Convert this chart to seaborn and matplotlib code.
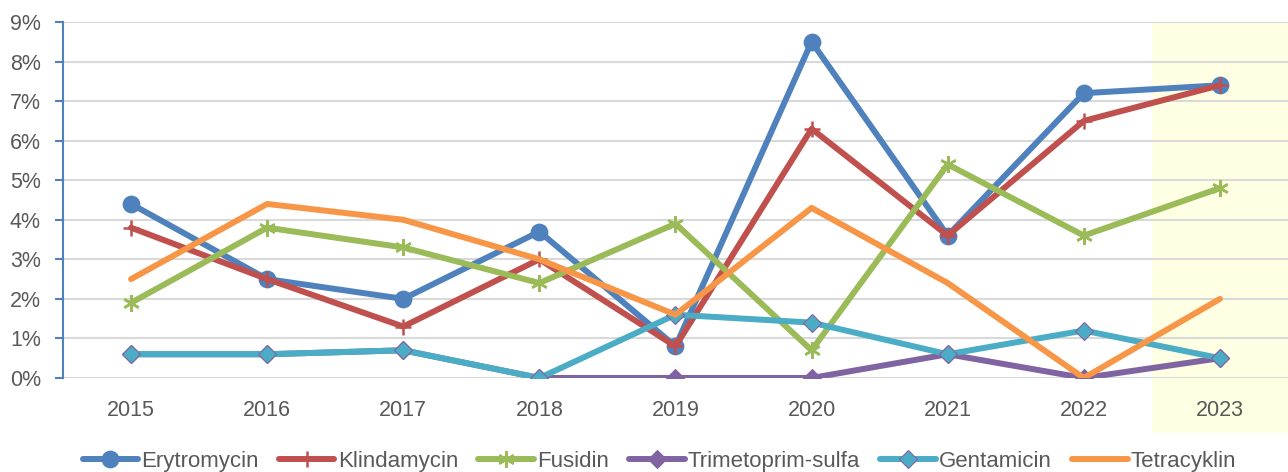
import seaborn as sns
import matplotlib.pyplot as plt
import pandas as pd

years = ["2015", "2016", "2017", "2018", "2019", "2020", "2021", "2022", "2023"]

erytromycin = [4.4, 2.5, 2.0, 3.7, 0.8, 8.5, 3.6, 7.2, 7.4]
klindamycin = [3.8, 2.5, 1.3, 3.0, 0.8, 6.3, 3.6, 6.5, 7.4]
fusidin = [1.9, 3.8, 3.3, 2.4, 3.9, 0.7, 5.4, 3.6, 4.8]
trimetoprim_sulfa = [0.6, 0.6, 0.7, 0.0, 0.0, 0.0, 0.6, 0.0, 0.5]
gentamicin = [0.6, 0.6, 0.7, 0.0, 1.6, 1.4, 0.6, 1.2, 0.5]
tetracyklin = [2.5, 4.4, 4.0, 3.0, 1.6, 4.3, 2.4, 0.0, 2.0]

series = {
    "Erytromycin": erytromycin,
    "Klindamycin": klindamycin,
    "Fusidin": fusidin,
    "Trimetoprim-sulfa": trimetoprim_sulfa,
    "Gentamicin": gentamicin,
    "Tetracyklin": tetracyklin,
}

# colour, marker, marker size
styles = {
    "Erytromycin": ("#4F81BD", "o", 11),
    "Klindamycin": ("#C0504D", "+", 12),
    "Fusidin": ("#9BBB59", (6, 2, 0), 12),
    "Trimetoprim-sulfa": ("#8064A2", "D", 9),
    "Gentamicin": ("#4BACC6", "D", 9),
    "Tetracyklin": ("#F79646", None, 0),
}

sns.set_style("white")
plt.rcParams["font.family"] = ["Liberation Sans", "DejaVu Sans"]

fig = plt.figure(figsize=(12.88, 4.72), dpi=100)
ax = fig.add_axes([0.0489, 0.1992, 0.9511, 0.7542])

# highlighted last year
ax.axvspan(7.5, 8.5, ymin=-0.155, ymax=1, color="#FFFFE3", lw=0,
           zorder=0, clip_on=False)

for name, vals in series.items():
    color, marker, ms = styles[name]
    df = pd.DataFrame({"x": range(len(years)), "value": vals})
    kw = {}
    if marker:
        kw = dict(marker=marker, markersize=ms, markeredgewidth=1.8,
                  markeredgecolor=color, markerfacecolor=color)
    if marker == "D":
        kw["markeredgecolor"] = "#8064A2"
        kw["markeredgewidth"] = 0.8
    sns.lineplot(data=df, x="x", y="value", ax=ax, color=color, linewidth=4.3,
                 label=name, solid_joinstyle="round", solid_capstyle="round",
                 zorder=3, **kw)

ax.set_xlim(-0.5, 8.5)
ax.set_ylim(0, 9)
ax.set_xticks(range(len(years)))
ax.set_xticklabels(years)
ax.set_yticks(range(10))
ax.set_yticklabels([f"{i}%" for i in range(10)])
ax.set_xlabel("")
ax.set_ylabel("")

ax.grid(axis="y", color="#D9D9D9", linewidth=1.5, zorder=1)
for s in ["top", "right", "bottom"]:
    ax.spines[s].set_visible(False)
ax.spines["left"].set_color("#4F81BD")
ax.spines["left"].set_linewidth(1.5)

ax.tick_params(axis="y", direction="out", length=6, width=1.5, color="#4F81BD",
               labelsize=15.5, labelcolor="#595959", pad=10, left=True)
ax.tick_params(axis="x", length=0, labelsize=15.5, labelcolor="#595959", pad=16)

handles, labels = ax.get_legend_handles_labels()
ax.get_legend().remove()
fig.legend(handles, labels, loc="center", bbox_to_anchor=(0.512, 0.022), ncol=6,
           frameon=False, fontsize=16, labelcolor="#595959", handlelength=2.5,
           handletextpad=0.15, columnspacing=0.9)

fig.savefig("out.png", dpi=100)
